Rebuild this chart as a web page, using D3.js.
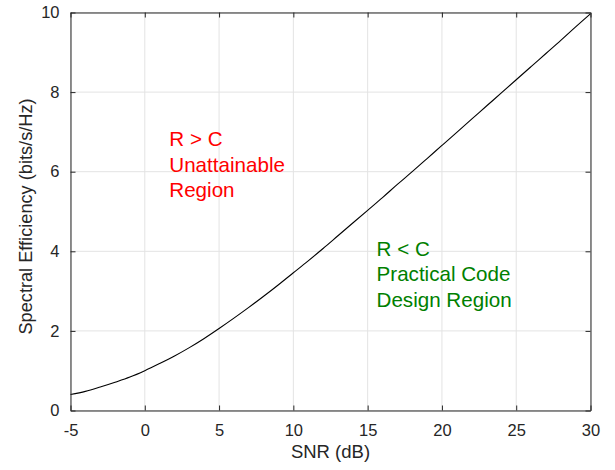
<!DOCTYPE html>
<meta charset="utf-8">
<script src="https://d3js.org/d3.v7.min.js"></script>
<style>
  body { margin: 0; background: #fff; }
  svg text { font-family: "Liberation Sans", Arial, sans-serif; }
</style>
<svg id="chart" width="615" height="470"></svg>
<script>
  // values, one point per dB
  const snrDb = [-5, -4, -3, -2, -1, 0, 1, 2, 3, 4, 5, 6, 7, 8, 9, 10, 11, 12, 13, 14, 15,
    16, 17, 18, 19, 20, 21, 22, 23, 24, 25, 26, 27, 28, 29, 30]
  const efficiency = [0.40, 0.48, 0.59, 0.71, 0.84, 1.00, 1.18, 1.37, 1.58, 1.81, 2.06,
    2.32, 2.59, 2.87, 3.16, 3.46, 3.76, 4.07, 4.39, 4.71, 5.03, 5.35, 5.68, 6.00, 6.33,
    6.66, 6.99, 7.32, 7.65, 7.98, 8.31, 8.64, 8.97, 9.30, 9.64, 9.97]
  const xTicks = [-5, 0, 5, 10, 15, 20, 25, 30]
  const yTicks = [0, 2, 4, 6, 8, 10]
  const redLines = ["R > C", "Unattainable", "Region"]
  const greenLines = ["R < C", "Practical Code", "Design Region"]

  const svg = d3.select("#chart")
  const margin = {top: 12.5, right: 24.5, bottom: 59.5, left: 70.5}
  const width = 615 - margin.left - margin.right
  const height = 470 - margin.top - margin.bottom
  const x = d3.scaleLinear().domain([-5, 30]).range([0, width])
  const y = d3.scaleLinear().domain([0, 10]).range([height, 0])
  const axisColor = "#262626"

  const g = svg.append("g").attr("transform", "translate(" + margin.left + "," + margin.top + ")")

  // grid
  g.selectAll(".vgrid").data(xTicks).enter().append("line")
    .attr("x1", d => x(d)).attr("x2", d => x(d))
    .attr("y1", 0).attr("y2", height)
    .attr("stroke", "#e3e3e3").attr("stroke-width", 1)
  g.selectAll(".hgrid").data(yTicks).enter().append("line")
    .attr("x1", 0).attr("x2", width)
    .attr("y1", d => y(d)).attr("y2", d => y(d))
    .attr("stroke", "#e3e3e3").attr("stroke-width", 1)

  // curve
  const pts = snrDb.map((d, i) => ({snr: d, eff: efficiency[i]}))
  g.append("path").datum(pts)
    .attr("fill", "none").attr("stroke", "#000").attr("stroke-width", 1.1)
    .attr("d", d3.line().x(d => x(d.snr)).y(d => y(d.eff)).curve(d3.curveMonotoneX))

  // axes, inward ticks on all four sides
  const styleAxis = sel => {
    sel.select(".domain").attr("stroke", axisColor).attr("stroke-width", 1)
    sel.selectAll(".tick line").attr("stroke", axisColor)
    sel.selectAll(".tick text").attr("fill", axisColor).style("font-size", "16.5px")
  }
  const plain = d => String(d)  // keep the ASCII hyphen for -5
  g.append("g").attr("transform", "translate(0," + height + ")")
    .call(d3.axisBottom(x).tickValues(xTicks).tickFormat(plain).tickSizeInner(-5).tickSizeOuter(0).tickPadding(14))
    .call(styleAxis)
  g.append("g")
    .call(d3.axisTop(x).tickValues(xTicks).tickSizeInner(-5).tickSizeOuter(0).tickFormat(""))
    .call(styleAxis)
  g.append("g")
    .call(d3.axisLeft(y).tickValues(yTicks).tickFormat(plain).tickSizeInner(-5).tickSizeOuter(0).tickPadding(11))
    .call(styleAxis)
  g.append("g").attr("transform", "translate(" + width + ",0)")
    .call(d3.axisRight(y).tickValues(yTicks).tickSizeInner(-5).tickSizeOuter(0).tickFormat(""))
    .call(styleAxis)

  // axis labels
  svg.append("text")
    .attr("x", margin.left + width / 2).attr("y", 458)
    .attr("text-anchor", "middle").attr("fill", axisColor)
    .style("font-size", "18.5px")
    .text("SNR (dB)")
  svg.append("text")
    .attr("transform", "translate(32," + (margin.top + height / 2 + 5) + ") rotate(-90)")
    .attr("text-anchor", "middle").attr("fill", axisColor)
    .style("font-size", "18.2px")
    .text("Spectral Efficiency (bits/s/Hz)")

  // region annotations
  g.selectAll(".red").data(redLines).enter().append("text")
    .attr("x", x(1.65)).attr("y", (d, i) => y(6.65) + i * 25.7)
    .attr("fill", "#ff0000").style("font-size", "20.6px")
    .text(d => d)
  g.selectAll(".green").data(greenLines).enter().append("text")
    .attr("x", x(15.6)).attr("y", (d, i) => y(3.88) + i * 25.3)
    .attr("fill", "#008000").style("font-size", "20.6px")
    .text(d => d)
</script>
